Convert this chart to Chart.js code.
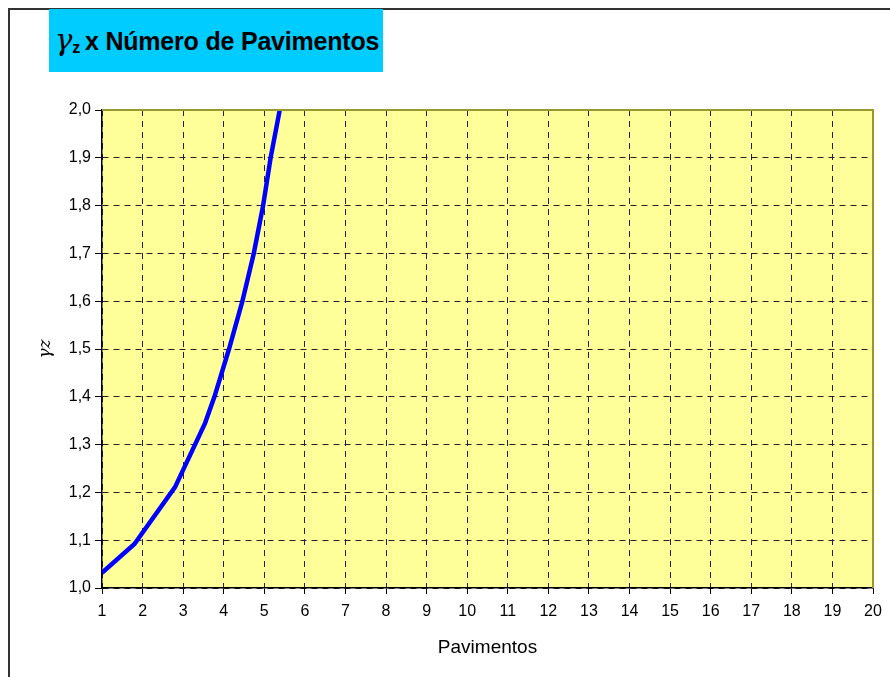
<!DOCTYPE html>
<html>
<head>
<meta charset="utf-8">
<script src="https://cdn.jsdelivr.net/npm/chart.js@4/dist/chart.umd.min.js"></script>
<style>
  body { margin: 0; background: #fff; font-family: "Liberation Sans", Arial, sans-serif; }
  #wrap { position: relative; width: 890px; height: 677px; overflow: hidden; }
  #frame { position: absolute; left: 8px; top: 8px; width: 900px; height: 700px;
           border-left: 2px solid #333; border-top: 2px solid #333; }
  #title { position: absolute; left: 49px; top: 9px; width: 334px; height: 63px; background: #00CCFF;
           font-weight: bold; font-size: 25px; line-height: 63px; letter-spacing: -0.2px; color: #000; white-space: nowrap; }
  #title .g { font-family: "DejaVu Serif", serif; font-style: italic; font-weight: normal; font-size: 29px; margin-left: 6px; }
  #title sub { font-size: 16px; vertical-align: -3px; margin-right: 5px; }
  canvas { position: absolute; left: 0; top: 0; }
</style>
</head>
<body>
<div id="wrap">
  <div id="frame"></div>
  <div id="title"><span class="g">γ</span><sub>z</sub>x Número de Pavimentos</div>
  <canvas id="chart" width="890" height="677"></canvas>
</div>
<script>
// pavimentos (x) and gamma_z (y)
const pavimentos = [1, 1.8, 2.8, 3.54, 3.77, 4.13, 4.46, 4.74, 4.97, 5.155, 5.38];
const gammaZ = [1.032, 1.092, 1.211, 1.345, 1.4, 1.5, 1.6, 1.7, 1.8, 1.9, 2.0];
const xLabel = 'Pavimentos';
const yLabel = 'γz';

const points = pavimentos.map((x, i) => ({ x: x, y: gammaZ[i] }));

const plotBg = {
  id: 'plotBg',
  beforeDraw(chart) {
    const a = chart.chartArea, ctx = chart.ctx;
    ctx.save();
    ctx.fillStyle = '#FFFF99';
    ctx.fillRect(a.left, a.top, a.right - a.left, a.bottom - a.top);
    ctx.restore();
  },
  afterDatasetsDraw(chart) {
    const a = chart.chartArea, ctx = chart.ctx;
    ctx.save();
    ctx.strokeStyle = '#999933';
    ctx.lineWidth = 2;
    ctx.beginPath();
    ctx.moveTo(a.left, a.top);
    ctx.lineTo(a.right, a.top);
    ctx.lineTo(a.right, a.bottom);
    ctx.stroke();
    ctx.restore();
  }
};

const ctx = document.getElementById('chart').getContext('2d');
new Chart(ctx, {
  type: 'scatter',
  data: {
    datasets: [{
      data: points,
      showLine: true,
      borderColor: '#0000FF',
      borderWidth: 4.5,
      pointRadius: 0,
      tension: 0
    }]
  },
  options: {
    responsive: false,
    animation: false,
    layout: { padding: { left: 0, top: 110, right: 17, bottom: 0 } },
    plugins: { legend: { display: false }, tooltip: { enabled: false } },
    scales: {
      x: {
        type: 'linear',
        min: 1, max: 20,
        afterFit: s => { s.height = 89; },
        ticks: { stepSize: 1, color: '#000', font: { family: 'Liberation Sans', size: 16 }, padding: 8 },
        grid: { color: '#222', lineWidth: 1, tickLength: 6, tickColor: '#000', tickBorderDash: [] },
        border: { color: '#000', width: 1.5, dash: [6, 5] },
        title: { display: true, text: xLabel, color: '#000', font: { family: 'Liberation Sans', size: 19 }, padding: { top: 0, bottom: 18 } }
      },
      y: {
        min: 1, max: 2,
        afterFit: s => { s.width = 102; },
        ticks: {
          stepSize: 0.1, color: '#000', font: { family: 'Liberation Sans', size: 16 }, padding: 4,
          callback: v => v.toFixed(1).replace('.', ',')
        },
        grid: { color: '#222', lineWidth: 1, tickLength: 7, tickColor: '#000', tickBorderDash: [] },
        border: { color: '#000', width: 1.5, dash: [6, 5] },
        title: { display: true, text: yLabel, color: '#000', font: { family: 'DejaVu Serif', size: 17, style: 'italic' }, padding: { top: 35, bottom: 0 } }
      }
    }
  },
  plugins: [plotBg]
});
</script>
</body>
</html>
